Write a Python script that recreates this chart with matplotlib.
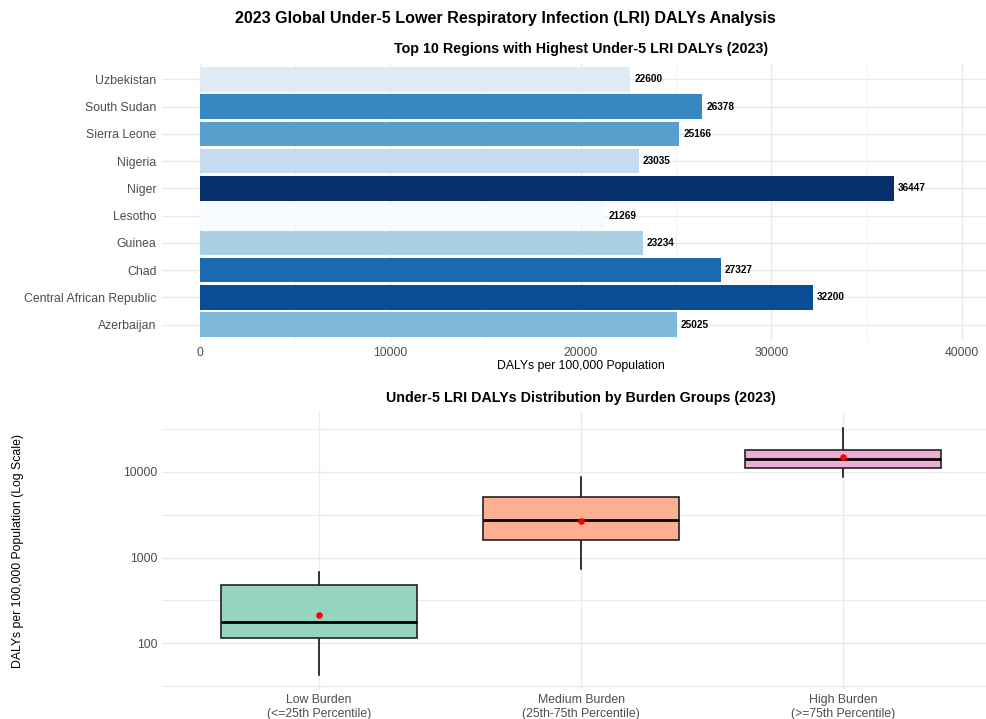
import matplotlib
matplotlib.use("Agg")
import matplotlib.pyplot as plt
import matplotlib.colors as mcolors
import numpy as np
from matplotlib.ticker import FixedLocator, NullFormatter

plt.rcParams['font.family'] = ['Liberation Sans', 'DejaVu Sans']

# ---------------- data ----------------
regions = ["Azerbaijan", "Central African Republic", "Chad", "Guinea", "Lesotho",
           "Niger", "Nigeria", "Sierra Leone", "South Sudan", "Uzbekistan"]
dalys = [25025, 32200, 27327, 23234, 21269, 36447, 23035, 25166, 26378, 22600]
bar_colors = ["#7fb9da", "#084d96", "#1b69af", "#abd0e6", "#f7fbff",
              "#08306b", "#c6dbef", "#57a0ce", "#3787c0", "#deebf7"]

groups = ["Low Burden\n(<=25th Percentile)", "Medium Burden\n(25th-75th Percentile)",
          "High Burden\n(>=75th Percentile)"]
whisker_low = [43, 733, 8750]
q1 = [117, 1592, 10950]
median = [178, 2768, 13930]
q3 = [485, 5035, 17740]
whisker_high = [687, 8745, 32000]
means = [213, 2673, 14700]
box_colors = ["#66c2a5", "#fc8d62", "#e78ac3"]

W, H = 987, 719
fig = plt.figure(figsize=(W / 100, H / 100), dpi=100)

def fx(px):
    return px / W

def fy(py):
    return 1 - py / H

grid_c = "#ebebeb"
tick_c = "#4d4d4d"

# ---------------- top panel ----------------
L, R = 162, 1000
ax1 = fig.add_axes([fx(L), fy(341), fx(R - L), fy(63) - fy(341)])
ypos = np.arange(1, len(regions) + 1)
ax1.barh(ypos, dalys, height=0.9, color=bar_colors, edgecolor="none", zorder=2)
for y, v in zip(ypos, dalys):
    ax1.text(v + 200, y, f"{v}", va="center", ha="left", fontsize=7.2,
             fontweight="bold", color="black", zorder=3)
ax1.set_xlim(-1995, 42000)
ax1.set_ylim(0.4, 10.6)
ax1.set_yticks(ypos)
ax1.set_yticklabels(regions)
ax1.set_xticks([0, 10000, 20000, 30000, 40000])
ax1.xaxis.set_minor_locator(FixedLocator([5000, 15000, 25000, 35000]))
ax1.grid(True, which="major", color=grid_c, lw=1.0, zorder=0)
ax1.grid(True, which="minor", axis="x", color=grid_c, lw=0.5, zorder=0)
ax1.set_axisbelow(True)
for s in ax1.spines.values():
    s.set_visible(False)
ax1.tick_params(axis="both", which="both", length=0, labelsize=8.8, labelcolor=tick_c)
ax1.tick_params(axis="y", pad=4)
ax1.tick_params(axis="x", pad=4)
ax1.set_xlabel("DALYs per 100,000 Population", fontsize=8.8, labelpad=1)
ax1.set_title("Top 10 Regions with Highest Under-5 LRI DALYs (2023)",
              fontsize=10.3, fontweight="bold", pad=7)

# ---------------- bottom panel ----------------
ax2 = fig.add_axes([fx(L), fy(690), fx(R - L), fy(412) - fy(690)])
stats = []
for i in range(len(groups)):
    stats.append(dict(whislo=whisker_low[i], q1=q1[i], med=median[i], q3=q3[i],
                      whishi=whisker_high[i], fliers=[], mean=means[i], label=groups[i]))
pos = [1, 2, 3]
bp = ax2.bxp(stats, positions=pos, widths=0.75, patch_artist=True, showfliers=False,
             showcaps=False, showmeans=False,
             boxprops=dict(edgecolor="#222222", linewidth=1.2),
             medianprops=dict(color="black", linewidth=2.0),
             whiskerprops=dict(color="black", linewidth=1.1))
for patch, c in zip(bp["boxes"], box_colors):
    rgb = np.array(mcolors.to_rgb(c))
    patch.set_facecolor(tuple(0.7 * rgb + 0.3))
    patch.set_zorder(3)
for ln in bp["medians"]:
    ln.set_zorder(4)
for ln in bp["whiskers"]:
    ln.set_zorder(2)
ax2.scatter(pos, means, color="red", s=14, zorder=5)
ax2.set_yscale("log")
ax2.set_ylim(28.7, 49400)
ax2.set_xlim(0.4, 3.6)
ax2.yaxis.set_major_locator(FixedLocator([100, 1000, 10000]))
ax2.yaxis.set_minor_locator(FixedLocator([10 ** 1.5, 10 ** 2.5, 10 ** 3.5, 10 ** 4.5]))
ax2.yaxis.set_minor_formatter(NullFormatter())
ax2.set_yticklabels(["100", "1000", "10000"])
ax2.set_xticks(pos)
ax2.set_xticklabels(groups)
ax2.grid(True, which="major", color=grid_c, lw=1.0, zorder=0)
ax2.grid(True, which="minor", axis="y", color=grid_c, lw=0.8, zorder=0)
ax2.set_axisbelow(True)
for s in ax2.spines.values():
    s.set_visible(False)
ax2.tick_params(axis="both", which="both", length=0, labelsize=8.8, labelcolor=tick_c)
ax2.tick_params(axis="x", pad=3)
ax2.set_ylabel("DALYs per 100,000 Population (Log Scale)", fontsize=8.8)
ax2.yaxis.set_label_coords((24 - L) / (R - L), 0.5)
ax2.set_title("Under-5 LRI DALYs Distribution by Burden Groups (2023)",
              fontsize=10.3, fontweight="bold", pad=7)

fig.text(fx(505), fy(18), "2023 Global Under-5 Lower Respiratory Infection (LRI) DALYs Analysis",
         ha="center", va="center", fontsize=11.6, fontweight="bold")

fig.savefig("out.png", dpi=100, facecolor="white")
